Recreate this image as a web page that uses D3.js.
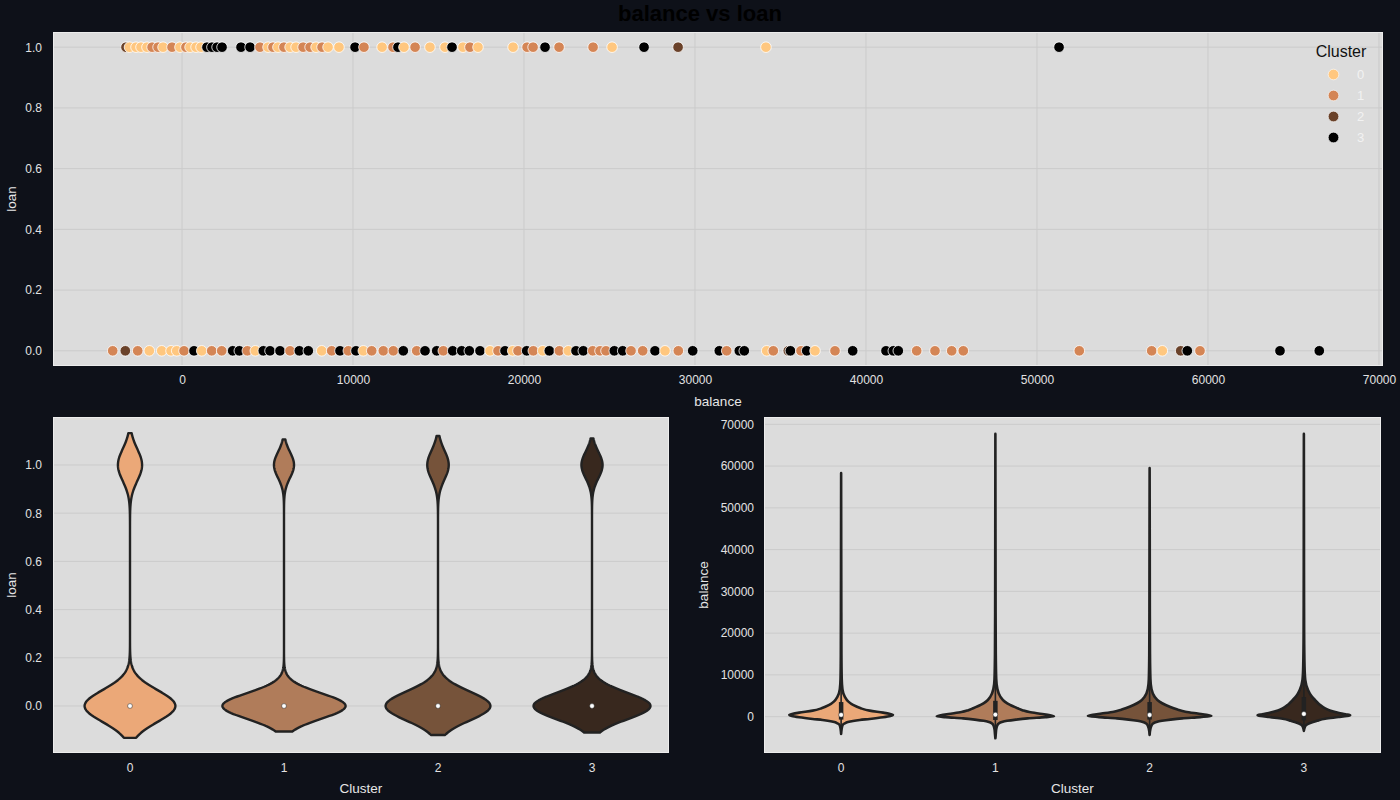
<!DOCTYPE html>
<html><head><meta charset="utf-8">
<script src="https://cdn.jsdelivr.net/npm/d3@7"></script>
<style>
html,body{margin:0;padding:0;background:#0e1119;}
svg{display:block;}
text{font-family:"Liberation Sans",Arial,sans-serif;}
</style>
</head><body>
<svg id="chart" width="1400" height="800"></svg>
<script>
// ---------------- DATA ----------------
const clusters = ["0", "1", "2", "3"];
const balanceTicks = [0, 10000, 20000, 30000, 40000, 50000, 60000, 70000];
const loanTicks = [0, 0.2, 0.4, 0.6, 0.8, 1.0];

// scatter: points with loan = 1
const loanOneBalance = [-3275,-3070,-2690,-2400,-2050,-1750,-1400,-1110,-585,-120,230,470,820,1110,1460,1750,2050,2340,3450,3980,4560,5030,5320,5610,5960,6320,6670,7080,7490,7840,8190,8540,9180,10120,10640,11700,12340,12630,12980,13630,14500,15380,15790,16430,16840,17310,19360,20180,20530,21230,22050,24040,25150,27020,29010,34150,51290];
const loanOneCluster = [2,0,0,0,0,1,1,0,1,0,1,0,0,0,3,3,3,3,3,3,1,0,1,0,1,0,0,1,1,0,1,0,0,3,1,0,1,3,0,1,0,0,3,0,1,0,0,1,1,3,1,1,0,3,2,0,3];

// scatter: points with loan = 0
const loanZeroBalance = [-4053,-3316,-2591,-1912,-1187,-643,-310,117,702,1152,1737,2322,2965,3351,3819,4287,4754,5146,5731,6316,6860,7386,8170,8754,9240,9725,10176,10602,11094,11772,12357,12942,13725,14211,14895,15281,15831,16357,16802,17427,18012,18480,18890,19339,19649,20158,20544,21094,21480,22065,22591,23041,23468,24018,24445,24795,25281,25772,26258,26942,27661,28246,29024,29866,31421,31854,32591,32883,34193,34579,35456,35580,36199,36533,37018,38187,39222,41170,41597,41889,42965,44035,45012,45690,52474,56708,57328,58404,58790,59533,64211,66509];
const loanZeroCluster = [1,2,1,0,0,0,0,1,3,0,1,1,3,3,1,0,3,3,3,1,3,3,0,1,3,1,3,0,1,1,1,3,1,3,3,1,3,3,3,3,0,1,3,0,1,3,1,0,3,1,0,3,3,1,1,1,3,3,1,1,3,0,1,3,3,1,3,3,0,1,2,3,1,3,0,1,3,3,3,3,1,1,1,1,1,1,0,2,3,1,3,3];

// loan violin: counts of customers with / without a loan per cluster
const loanYesCount = [1870, 1680, 1615, 1836];
const loanNoCount  = [7030, 10320, 7885, 10164];

// balance violin: estimated density profiles [balance, density] per cluster
const balanceDensity0 = [[-4140,0],[-3000,0.008],[-2000,0.025],[-1600,0.059],[-1300,0.109],[-1030,0.193],[-800,0.302],[-550,0.462],[-150,0.68],[150,0.798],[450,0.84],[700,0.781],[960,0.68],[1440,0.462],[2000,0.319],[2800,0.193],[3600,0.118],[4800,0.059],[6600,0.021],[9000,0.01],[15000,0.005],[25000,0.0034],[40000,0.0017],[58300,0]];
const balanceDensity1 = [[-5170,0],[-4000,0.0076],[-3000,0.014],[-2000,0.033],[-1600,0.057],[-1300,0.105],[-1000,0.19],[-700,0.333],[-400,0.523],[-100,0.808],[100,0.95],[350,0.884],[650,0.76],[1100,0.551],[1500,0.447],[2000,0.361],[2800,0.238],[3600,0.152],[4800,0.081],[6600,0.033],[9000,0.014],[15000,0.0067],[25000,0.0038],[45000,0.0019],[67700,0]];
const balanceDensity2 = [[-4380,0],[-3000,0.012],[-2000,0.035],[-1600,0.06],[-1300,0.11],[-1000,0.2],[-700,0.34],[-400,0.53],[-100,0.82],[170,1.0],[450,0.92],[750,0.78],[1200,0.58],[1600,0.47],[2000,0.39],[2800,0.26],[3600,0.16],[4800,0.08],[6600,0.03],[9000,0.013],[15000,0.006],[25000,0.0035],[45000,0.0018],[59500,0]];
const balanceDensity3 = [[-3420,0],[-2500,0.015],[-2000,0.0375],[-1440,0.1125],[-1000,0.21],[-480,0.345],[-100,0.5625],[150,0.6975],[350,0.75],[600,0.675],[1000,0.54],[1500,0.42],[2000,0.345],[3000,0.2475],[4000,0.18],[5000,0.12],[6400,0.0675],[8800,0.0225],[12000,0.011],[20000,0.0045],[35000,0.0022],[50000,0.0015],[67700,0]];
const balanceDensity = [balanceDensity0, balanceDensity1, balanceDensity2, balanceDensity3];

// balance inner box: [lower whisker, q1, median, q3, upper whisker]
const balanceBox0 = [-4000, -700, 420, 3500, 8000];
const balanceBox1 = [-5000, -800, 480, 3800, 9000];
const balanceBox2 = [-4300, -700, 400, 3500, 8500];
const balanceBox3 = [-3200, -900, 650, 4700, 10000];
const balanceBox = [balanceBox0, balanceBox1, balanceBox2, balanceBox3];

// ---------------- STYLE ----------------
const pointColors  = ["#ffc77f", "#d48555", "#6a422a", "#000000"];
const violinColors = ["#eba878", "#b07c5a", "#76533a", "#38281e"];
const plotBg = "#dcdcdc", gridColor = "#cbcbcb", frameColor = "#ececec";
const tickColor = "#e2e2e2", labelColor = "#e6e6e6", outline = "#222222";

const svg = d3.select("#chart");

function panel(x0, x1, y0, y1) {
  svg.append("rect").attr("x", x0).attr("y", y0).attr("width", x1 - x0).attr("height", y1 - y0)
    .attr("fill", plotBg);
  return svg.append("g");
}
function frame(x0, x1, y0, y1) {
  svg.append("rect").attr("x", x0 + 0.5).attr("y", y0 + 0.5).attr("width", x1 - x0 - 1).attr("height", y1 - y0 - 1)
    .attr("fill", "none").attr("stroke", frameColor).attr("stroke-width", 1);
}
function styleAxis(g) {
  g.select(".domain").remove();
  g.selectAll(".tick line").remove();
  g.selectAll(".tick text").attr("fill", tickColor).attr("font-size", 12)
    .attr("font-family", "'Liberation Sans', Arial, sans-serif");
}

// ---------------- TITLE ----------------
svg.append("text").attr("x", 700).attr("y", 21).attr("text-anchor", "middle")
  .attr("font-size", 22).attr("font-weight", "bold").attr("fill", "#000").text("balance vs loan");

// ---------------- TOP SCATTER ----------------
{
  const L = 53, R = 1383, T = 32, B = 366;
  const x = d3.scaleLinear().domain([-7545, 70235]).range([L, R]);
  const y = d3.scaleLinear().domain([-0.05, 1.05]).range([B, T]);
  const g = panel(L, R, T, B);
  g.selectAll(".vg").data(balanceTicks).join("line")
    .attr("x1", d => x(d)).attr("x2", d => x(d)).attr("y1", T).attr("y2", B)
    .attr("stroke", gridColor).attr("stroke-width", 1);
  g.selectAll(".hg").data(loanTicks).join("line")
    .attr("x1", L).attr("x2", R).attr("y1", d => y(d)).attr("y2", d => y(d))
    .attr("stroke", gridColor).attr("stroke-width", 1);

  const rows = [];
  loanOneBalance.forEach((b, i) => rows.push({ balance: b, loan: 1, cluster: loanOneCluster[i] }));
  loanZeroBalance.forEach((b, i) => rows.push({ balance: b, loan: 0, cluster: loanZeroCluster[i] }));
  g.selectAll("circle.pt").data(rows).join("circle")
    .attr("cx", d => x(d.balance)).attr("cy", d => y(d.loan)).attr("r", 5.3)
    .attr("fill", d => pointColors[d.cluster]).attr("stroke", "#ffffff").attr("stroke-width", 0.8);

  frame(L, R, T, B);
  const ax = svg.append("g").attr("transform", `translate(0,${B})`)
    .call(d3.axisBottom(x).tickValues(balanceTicks).tickFormat(d3.format("d")).tickSize(0).tickPadding(9));
  styleAxis(ax);
  const ay = svg.append("g").attr("transform", `translate(${L},0)`)
    .call(d3.axisLeft(y).tickValues(loanTicks).tickFormat(d3.format(".1f")).tickSize(0).tickPadding(11));
  styleAxis(ay);
  svg.append("text").attr("x", (L + R) / 2).attr("y", 406).attr("text-anchor", "middle")
    .attr("fill", labelColor).attr("font-size", 13.5).text("balance");
  svg.append("text").attr("transform", `translate(16,${(T + B) / 2}) rotate(-90)`).attr("text-anchor", "middle")
    .attr("fill", labelColor).attr("font-size", 13.5).text("loan");

  // legend
  const lg = svg.append("g");
  lg.append("text").attr("x", 1341).attr("y", 57).attr("text-anchor", "middle")
    .attr("fill", "#111").attr("font-size", 16).text("Cluster");
  const ly = d3.scalePoint().domain(clusters).range([74.5, 137.5]);
  lg.selectAll("circle").data(clusters).join("circle")
    .attr("cx", 1333.5).attr("cy", d => ly(d)).attr("r", 5.3)
    .attr("fill", (d, i) => pointColors[i]).attr("stroke", "#fff").attr("stroke-width", 0.6);
  lg.selectAll("text.lab").data(clusters).join("text").attr("class", "lab")
    .attr("x", 1357).attr("y", d => ly(d) + 4.5).attr("fill", "#f2f2f2").attr("font-size", 13).text(d => d);
}

// ---------------- BOTTOM LEFT: loan violins ----------------
{
  const L = 53, R = 669, T = 417, B = 753;
  const x = d3.scaleBand().domain(clusters).range([L, R]).paddingInner(0).paddingOuter(0);
  const y = d3.scaleLinear().domain([-0.195, 1.199]).range([B, T]);
  const g = panel(L, R, T, B);
  g.selectAll(".hg").data(loanTicks).join("line")
    .attr("x1", L).attr("x2", R).attr("y1", d => y(d)).attr("y2", d => y(d))
    .attr("stroke", gridColor).attr("stroke-width", 1);

  // Gaussian KDE (Scott's rule) from counts; cut = 2 bandwidths
  const kdes = clusters.map((c, i) => {
    const yes = loanYesCount[i], no = loanNoCount[i], n = yes + no;
    const p = yes / n;
    const sd = Math.sqrt(n * p * (1 - p) / (n - 1));
    const bw = sd * Math.pow(n, -1 / 5);
    const lo = 0 - 2 * bw, hi = 1 + 2 * bw;
    return d3.range(0, 301).map(k => {
      const v = lo + (hi - lo) * k / 300;
      const dens = (no * Math.exp(-0.5 * (v / bw) ** 2) + yes * Math.exp(-0.5 * ((v - 1) / bw) ** 2)) / (n * bw * Math.sqrt(2 * Math.PI));
      return [v, dens];
    });
  });
  const maxD = d3.max(kdes, k => d3.max(k, d => d[1]));
  const w = d3.scaleLinear().domain([0, maxD]).range([0, 0.4 * x.bandwidth()]);
  kdes.forEach((pts, i) => {
    const cx = x(clusters[i]) + x.bandwidth() / 2;
    const area = d3.area().y(d => y(d[0])).x0(d => cx - w(d[1])).x1(d => cx + w(d[1]));
    g.append("path").attr("d", area(pts)).attr("fill", violinColors[i])
      .attr("stroke", outline).attr("stroke-width", 2.4).attr("stroke-linejoin", "round");
    const median = loanYesCount[i] > loanNoCount[i] ? 1 : 0;
    g.append("circle").attr("cx", cx).attr("cy", y(median)).attr("r", 2.4)
      .attr("fill", "#fff").attr("stroke", outline).attr("stroke-width", 0.5);
  });

  frame(L, R, T, B);
  const ax = svg.append("g").attr("transform", `translate(0,${B})`)
    .call(d3.axisBottom(x).tickSize(0).tickPadding(10));
  styleAxis(ax);
  const ay = svg.append("g").attr("transform", `translate(${L},0)`)
    .call(d3.axisLeft(y).tickValues(loanTicks).tickFormat(d3.format(".1f")).tickSize(0).tickPadding(11));
  styleAxis(ay);
  svg.append("text").attr("x", (L + R) / 2).attr("y", 793).attr("text-anchor", "middle")
    .attr("fill", labelColor).attr("font-size", 13.5).text("Cluster");
  svg.append("text").attr("transform", `translate(16,${(T + B) / 2}) rotate(-90)`).attr("text-anchor", "middle")
    .attr("fill", labelColor).attr("font-size", 13.5).text("loan");
}

// ---------------- BOTTOM RIGHT: balance violins ----------------
{
  const L = 764, R = 1381, T = 417, B = 753;
  const x = d3.scaleBand().domain(clusters).range([L, R]).paddingInner(0).paddingOuter(0);
  const y = d3.scaleLinear().domain([-8700, 71750]).range([B, T]);
  const g = panel(L, R, T, B);
  g.selectAll(".hg").data(balanceTicks).join("line")
    .attr("x1", L).attr("x2", R).attr("y1", d => y(d)).attr("y2", d => y(d))
    .attr("stroke", gridColor).attr("stroke-width", 1);

  const maxD = d3.max(balanceDensity, k => d3.max(k, d => d[1]));
  const w = d3.scaleLinear().domain([0, maxD]).range([0, 0.4 * x.bandwidth()]);
  balanceDensity.forEach((pts, i) => {
    const cx = x(clusters[i]) + x.bandwidth() / 2;
    const area = d3.area().curve(d3.curveMonotoneY)
      .y(d => y(d[0])).x0(d => cx - w(d[1])).x1(d => cx + w(d[1]));
    g.append("path").attr("d", area(pts)).attr("fill", violinColors[i])
      .attr("stroke", outline).attr("stroke-width", 2.6).attr("stroke-linejoin", "round");
    const bx = balanceBox[i];
    g.append("line").attr("x1", cx).attr("x2", cx).attr("y1", y(bx[0])).attr("y2", y(bx[4]))
      .attr("stroke", outline).attr("stroke-width", 1.6);
    g.append("line").attr("x1", cx).attr("x2", cx).attr("y1", y(bx[1])).attr("y2", y(bx[3]))
      .attr("stroke", outline).attr("stroke-width", 4.5);
    g.append("circle").attr("cx", cx).attr("cy", y(bx[2])).attr("r", 2.4)
      .attr("fill", "#fff").attr("stroke", outline).attr("stroke-width", 0.5);
  });

  frame(L, R, T, B);
  const ax = svg.append("g").attr("transform", `translate(0,${B})`)
    .call(d3.axisBottom(x).tickSize(0).tickPadding(10));
  styleAxis(ax);
  const ay = svg.append("g").attr("transform", `translate(${L},0)`)
    .call(d3.axisLeft(y).tickValues(balanceTicks).tickFormat(d3.format("d")).tickSize(0).tickPadding(10));
  styleAxis(ay);
  svg.append("text").attr("x", (L + R) / 2).attr("y", 793).attr("text-anchor", "middle")
    .attr("fill", labelColor).attr("font-size", 13.5).text("Cluster");
  svg.append("text").attr("transform", `translate(708,${(T + B) / 2}) rotate(-90)`).attr("text-anchor", "middle")
    .attr("fill", labelColor).attr("font-size", 13.5).text("balance");
}
</script>
</body></html>
